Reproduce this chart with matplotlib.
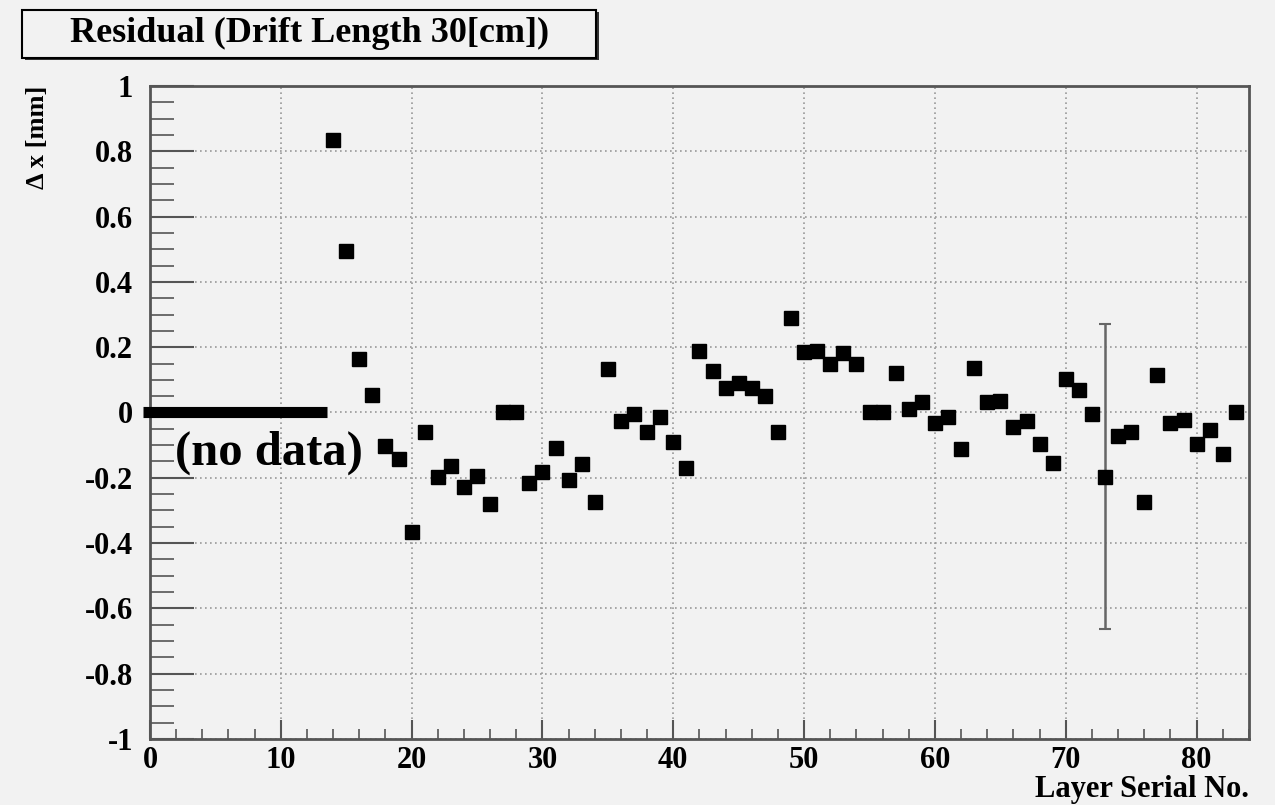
import matplotlib.pyplot as plt
from matplotlib.patches import Rectangle
from matplotlib.ticker import MultipleLocator, FixedLocator, FixedFormatter

plt.rcParams['font.family'] = ['Liberation Serif', 'DejaVu Serif']
plt.rcParams['font.weight'] = 'bold'
plt.rcParams['axes.unicode_minus'] = False

# residual per layer (layers 14..83)
layers = list(range(14, 84))
residuals = [0.835, 0.495, 0.164, 0.054, -0.103, -0.143, -0.366, -0.059, -0.197, -0.164,
             -0.228, -0.194, -0.280, 0.003, 0.003, -0.217, -0.183, -0.110, -0.207, -0.158,
             -0.274, 0.133, -0.026, -0.005, -0.059, -0.014, -0.090, -0.170, 0.189, 0.127,
             0.075, 0.090, 0.075, 0.050, -0.059, 0.290, 0.185, 0.189, 0.148, 0.181,
             0.148, 0.000, 0.000, 0.121, 0.012, 0.032, -0.032, -0.014, -0.112, 0.137,
             0.032, 0.035, -0.043, -0.026, -0.097, -0.154, 0.102, 0.068, -0.005, -0.197,
             -0.072, -0.059, -0.274, 0.115, -0.032, -0.023, -0.097, -0.054, -0.127, 0.000]

# the only visible error bar
err_layer = [73]
err_value = [-0.197]
err_size = [0.467]

# layers without data (drawn as a bar at zero)
nodata_layers = [0, 13]

xticks = [0, 10, 20, 30, 40, 50, 60, 70, 80]
yticks = [-1, -0.8, -0.6, -0.4, -0.2, 0, 0.2, 0.4, 0.6, 0.8, 1]
ytick_labels = ['-1', '-0.8', '-0.6', '-0.4', '-0.2', '0', '0.2', '0.4', '0.6', '0.8', '1']

bg = '#f2f2f2'
fig = plt.figure(figsize=(12.75, 8.05), dpi=100, facecolor=bg)
ax = fig.add_axes([0.1176, 0.082, 0.862, 0.8112], facecolor=bg)

ax.set_xlim(0, 84)
ax.set_ylim(-1, 1)

ax.grid(True, which='major', linestyle=(0, (1, 2)), color='#999999', linewidth=1.2)

ax.errorbar(err_layer, err_value, yerr=err_size, fmt='none', ecolor='#666666',
            elinewidth=1.8, capsize=4, capthick=1.5, zorder=3)
ax.plot(layers, residuals, 's', color='black', markersize=9.5, zorder=4)

ax.plot([nodata_layers[0] - 0.5, nodata_layers[1] + 0.5], [0, 0], color='black',
        linewidth=8, solid_capstyle='butt', clip_on=False, zorder=5)
ax.text(1.9, -0.125, '(no data)', fontsize=35, fontweight='bold', ha='left', va='center')

ax.xaxis.set_major_locator(FixedLocator(xticks))
ax.xaxis.set_minor_locator(MultipleLocator(2))
ax.yaxis.set_major_locator(FixedLocator(yticks))
ax.yaxis.set_major_formatter(FixedFormatter(ytick_labels))
ax.yaxis.set_minor_locator(MultipleLocator(0.05))

ax.tick_params(axis='x', which='major', direction='in', length=14, width=1.5,
               color='#555555', labelsize=22, pad=5)
ax.tick_params(axis='x', which='minor', direction='in', length=7, width=1.2, color='#555555')
ax.tick_params(axis='y', which='major', direction='in', length=32, width=1.5,
               color='#555555', labelsize=22, pad=12)
ax.tick_params(axis='y', which='minor', direction='in', length=17, width=1.2, color='#555555')

for s in ax.spines.values():
    s.set_color('#555555')
    s.set_linewidth(2)

ax.set_ylabel('Δ x [mm]', fontsize=19, fontweight='bold', labelpad=0)
ax.yaxis.set_label_coords(-0.092, 1.0)
ax.yaxis.label.set_ha('right')
ax.set_xlabel('Layer Serial No.', fontsize=22, fontweight='bold')
ax.xaxis.set_label_coords(1.0, -0.055)
ax.xaxis.label.set_ha('right')

# title box with shadow
fig.patches.append(Rectangle((0.0195, 0.925), 0.4505, 0.0595, transform=fig.transFigure,
                             facecolor='#333333', edgecolor='none', zorder=1))
fig.patches.append(Rectangle((0.0173, 0.928), 0.4505, 0.0595, transform=fig.transFigure,
                             facecolor=bg, edgecolor='black', linewidth=1.5, zorder=2))
fig.text(0.2425, 0.958, 'Residual (Drift Length 30[cm])', fontsize=26, fontweight='bold',
         ha='center', va='center', zorder=3)

fig.savefig('out.png', dpi=100, facecolor=bg)
